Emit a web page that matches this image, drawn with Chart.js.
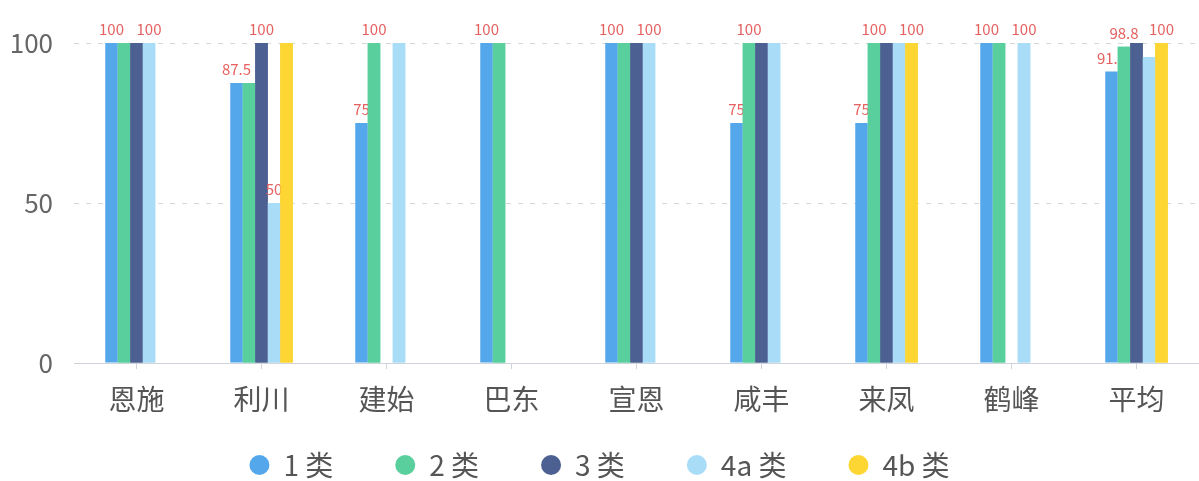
<!DOCTYPE html>
<html>
<head>
<meta charset="utf-8">
<script src="https://cdn.jsdelivr.net/npm/chart.js@4.4.1/dist/chart.umd.min.js"></script>
<style>
  html, body { margin: 0; padding: 0; background: #fff; }
</style>
</head>
<body>
<canvas id="chart" width="1199" height="481"></canvas>
<script>
// Data
const cities = ['恩施', '利川', '建始', '巴东', '宣恩', '咸丰', '来凤', '鹤峰', '平均'];
const seriesNames = ['1 类', '2 类', '3 类', '4a 类', '4b 类'];
const class1 = [100, 87.5, 75, 100, 100, 75, 75, 100, 91.1];
const class2 = [100, 87.5, 100, 100, 100, 100, 100, 100, 98.8];
const class3 = [100, 100, null, null, 100, 100, 100, null, 100];
const class4a = [100, 50, 100, null, 100, 100, 100, 100, 95.6];
const class4b = [null, 100, null, null, null, null, 100, null, 100];
const yTicks = [0, 50, 100];

const colors = ['#55a7ec', '#58cf9c', '#4c6192', '#a9ddf7', '#fdd633'];
const fontFamily = '"Noto Sans CJK SC", "Noto Sans", sans-serif';
const legendCenterY = 465;

// Value labels on top of the bars, hiding the ones that collide
const barLabels = {
  id: 'barLabels',
  afterDatasetsDraw(chart) {
    const ctx = chart.ctx;
    ctx.save();
    ctx.font = '15px ' + fontFamily;
    const placed = [];
    const perSet = chart.data.datasets.map((ds, i) => {
      const list = [];
      chart.getDatasetMeta(i).data.forEach((bar, j) => {
        const v = ds.data[j];
        if (v == null) return;
        const text = String(v);
        const w = ctx.measureText(text).width;
        const box = { x1: bar.x - w / 2 - 3, x2: bar.x + w / 2 + 3, y1: bar.y - 25, y2: bar.y - 7 };
        const hit = placed.some(b => box.x1 < b.x2 && box.x2 > b.x1 && box.y1 < b.y2 && box.y2 > b.y1);
        if (!hit) {
          placed.push(box);
          list.push({ x: bar.x, y: bar.y - 6, text: text });
        }
      });
      return list;
    });
    perSet.forEach((list, i) => {
      // later series sit on top of earlier labels
      if (i > 0) {
        const ds = chart.data.datasets[i];
        chart.getDatasetMeta(i).data.forEach((bar, j) => {
          if (ds.data[j] != null) bar.draw(ctx);
        });
      }
      ctx.font = '15px ' + fontFamily;
      ctx.fillStyle = '#e66060';
      ctx.textAlign = 'center';
      ctx.textBaseline = 'bottom';
      list.forEach(l => ctx.fillText(l.text, l.x, l.y));
    });
    ctx.restore();
  }
};

// The legend uses a wide item padding; keep its box short and move its row down
const legendRow = {
  id: 'legendRow',
  afterLayout(chart) {
    const lg = chart.legend;
    const pad = lg.options.labels.padding;
    const size = lg.options.labels.font.size;
    lg.top = legendCenterY - size / 2 - pad;
    lg.bottom = chart.height;
    lg.height = lg.bottom - lg.top;
  }
};

const seriesData = [class1, class2, class3, class4a, class4b];

new Chart(document.getElementById('chart').getContext('2d'), {
  type: 'bar',
  data: {
    labels: cities,
    datasets: seriesNames.map((name, i) => ({
      label: name,
      data: seriesData[i],
      backgroundColor: colors[i],
      borderWidth: 0,
      categoryPercentage: 0.5,
      barPercentage: 1
    }))
  },
  options: {
    responsive: false,
    animation: false,
    layout: { padding: { top: 43, right: 0, bottom: 0, left: 0 } },
    scales: {
      x: {
        afterFit: s => { s.height = 78; },
        grid: {
          display: true,
          drawOnChartArea: false,
          drawTicks: true,
          tickLength: 6,
          offset: false,
          color: '#cfd3da'
        },
        border: { display: true, color: '#cfd3da', width: 1 },
        ticks: {
          color: '#555',
          padding: 14,
          font: { size: 28, family: fontFamily }
        }
      },
      y: {
        min: 0,
        max: 100,
        afterFit: s => { s.width = 74; },
        afterBuildTicks: s => { s.ticks = yTicks.map(v => ({ value: v })); },
        grid: {
          color: '#d3d7dd',
          drawTicks: false
        },
        border: { display: false, dash: [5, 7] },
        ticks: {
          color: '#666',
          padding: 21,
          font: { size: 26, family: fontFamily }
        }
      }
    },
    plugins: {
      legend: {
        position: 'bottom',
        maxHeight: 40,
        labels: {
          usePointStyle: true,
          pointStyle: 'circle',
          boxHeight: 14,
          pointStyleWidth: 20,
          padding: 62,
          color: '#555',
          font: { size: 28, family: fontFamily }
        }
      },
      tooltip: { enabled: false }
    }
  },
  plugins: [barLabels, legendRow]
});
</script>
</body>
</html>
